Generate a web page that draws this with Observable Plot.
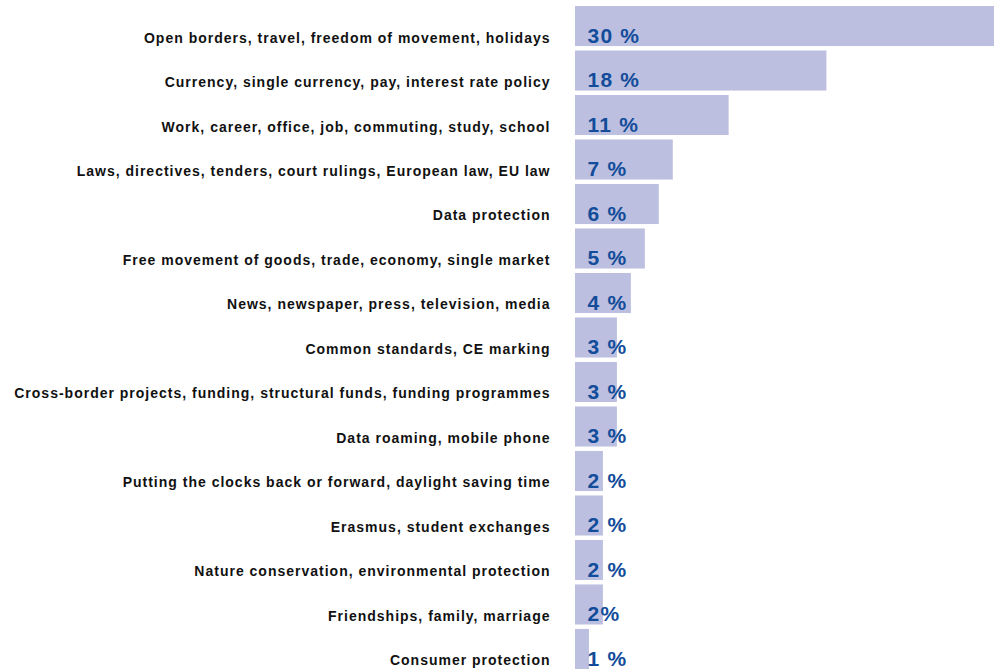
<!DOCTYPE html>
<html>
<head>
<meta charset="utf-8">
<script src="https://cdn.jsdelivr.net/npm/d3@7"></script>
<script src="https://cdn.jsdelivr.net/npm/@observablehq/plot@0.6"></script>
<style>
  html, body { margin: 0; padding: 0; background: #fff; }
  #chart { width: 997px; height: 670px; }
  .cat text { letter-spacing: 1px; }
  .val text { letter-spacing: 1.2px; }
</style>
</head>
<body>
<div id="chart"></div>
<script>
const categories = [
  "Open borders, travel, freedom of movement, holidays",
  "Currency, single currency, pay, interest rate policy",
  "Work, career, office, job, commuting, study, school",
  "Laws, directives, tenders, court rulings, European law, EU law",
  "Data protection",
  "Free movement of goods, trade, economy, single market",
  "News, newspaper, press, television, media",
  "Common standards, CE marking",
  "Cross-border projects, funding, structural funds, funding programmes",
  "Data roaming, mobile phone",
  "Putting the clocks back or forward, daylight saving time",
  "Erasmus, student exchanges",
  "Nature conservation, environmental protection",
  "Friendships, family, marriage",
  "Consumer protection"
];
const values = [30, 18, 11, 7, 6, 5, 4, 3, 3, 3, 2, 2, 2, 2, 1];
const valueLabels = ["30 %", "18 %", "11 %", "7 %", "6 %", "5 %", "4 %", "3 %", "3 %", "3 %", "2 %", "2 %", "2 %", "2%", "1 %"];

const data = categories.map((c, i) => ({category: c, value: values[i], label: valueLabels[i]}));

const chart = Plot.plot({
  width: 997,
  height: 670,
  marginLeft: 575,
  marginRight: 3,
  marginTop: 6,
  marginBottom: 1,
  style: {fontFamily: "'Liberation Sans', Arial, sans-serif", background: "#fff"},
  x: {domain: [0, 30], axis: null},
  y: {domain: categories, axis: null, paddingInner: 0.1, paddingOuter: 0, round: false},
  marks: [
    Plot.barX(data, {x: "value", y: "category", fill: "#bcbfdf"}),
    Plot.text(data, {
      x: 0, y: "category", text: "category",
      textAnchor: "end", dx: -25, dy: 11.5,
      fontSize: 14, fontWeight: "bold", fill: "#111",
      className: "cat"
    }),
    Plot.text(data, {
      x: 0, y: "category", text: "label",
      textAnchor: "start", dx: 12, dy: 9.3,
      fontSize: 21, fontWeight: "bold", fill: "#124c9a",
      className: "val"
    })
  ]
});
document.getElementById("chart").appendChild(chart);
</script>
</body>
</html>
